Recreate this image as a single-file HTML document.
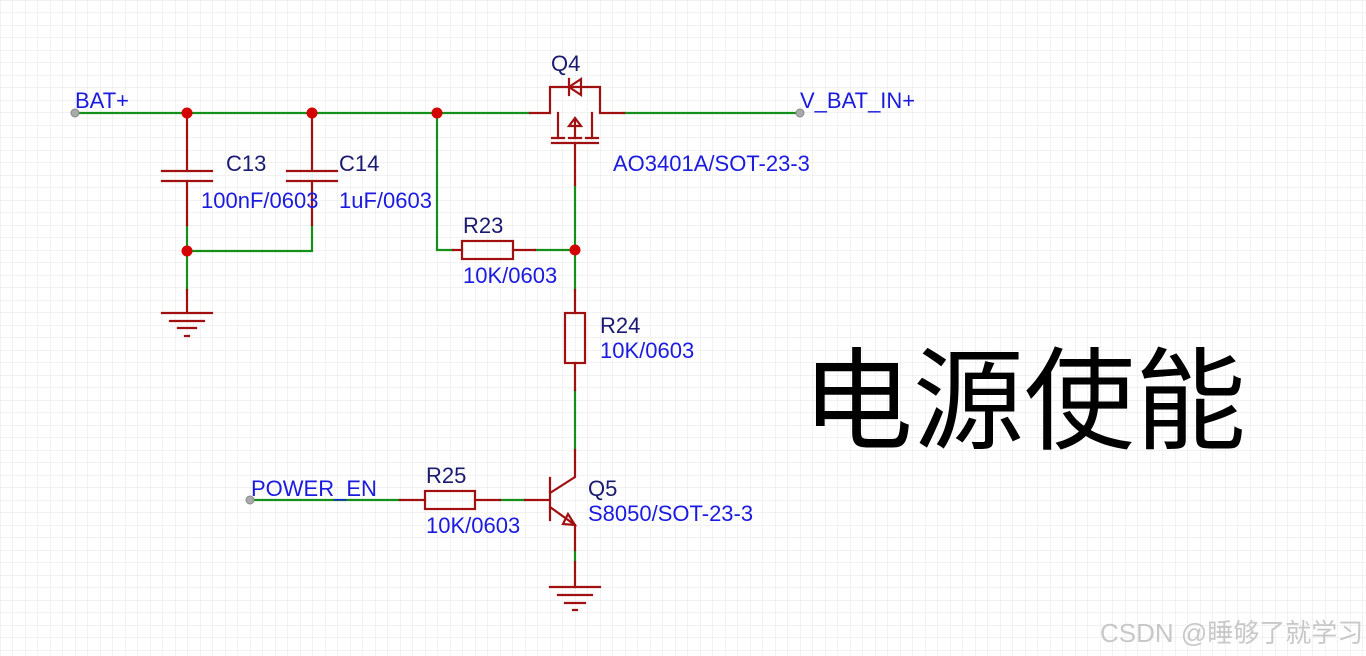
<!DOCTYPE html>
<html><head><meta charset="utf-8"><style>
html,body{margin:0;padding:0;background:#fff;}
svg{display:block;}
text{font-family:"Liberation Sans","Noto Sans CJK SC",sans-serif;}
</style></head><body>
<svg width="1366" height="656" viewBox="0 0 1366 656" xmlns="http://www.w3.org/2000/svg">
<defs>
<pattern id="g" width="12.5" height="12.5" patternUnits="userSpaceOnUse" x="0.5" y="0.5">
<path d="M12.5 0V12.5H0" fill="none" stroke="#e6e6e6" stroke-width="1"/>
</pattern>
</defs>
<rect width="1366" height="656" fill="url(#g)"/>
<g fill="none" stroke-width="2.2" stroke-linecap="square">
<g stroke="#14901a">
<path d="M75 113H530"/><path d="M624 113H800"/>
<path d="M187 113V118M312 113V118"/>
<path d="M187 225V290M312 225V251H187"/>
<path d="M437 113V250H453"/><path d="M535 250H575V290M575 185V250"/>
<path d="M575 390V450"/>
<path d="M250 500H400M500 500H525"/>
<path d="M575 550V562"/>
</g>
<g stroke="#a01010">
<path d="M530 113H550V87H600V113H624"/>
<path d="M187 118V171M187 181V225M162 171H212M162 181H212"/>
<path d="M312 118V171M312 181V225M287 171H337M287 181H337"/>
<path d="M187 290V313M162 313H212M170 321H204M178 328H196M185 336H189"/>
<path d="M558 113V138M592 113V138M575 138V120"/>
<path d="M552 138H564M569 138H581M586 138H598M552 143H598"/>
<path d="M575 143V185"/>
<path d="M569 79V95M581 79V95L569 87Z"/>
<path d="M569 126L575 118L581 126Z"/>
<path d="M453 250H462M513 250H535"/><rect x="462" y="241" width="51" height="18"/>
<path d="M575 290V313M575 363V390"/><rect x="565" y="313" width="20" height="50"/>
<path d="M400 500H425M475 500H500"/><rect x="425" y="491" width="50" height="18"/>
<path d="M575 450V477L550 493M550 478V520M525 500H550M550 507L575 525V550M575 562V587"/>
<path d="M563 524L575 525L568 514Z"/>
<path d="M550 587H600M558 595H592M565 603H585M573 610H577"/>
</g>
</g>
<g fill="#d40000">
<circle cx="187" cy="113" r="5.5"/><circle cx="312" cy="113" r="5.5"/><circle cx="437" cy="113" r="5.5"/>
<circle cx="187" cy="251" r="5.5"/><circle cx="575" cy="250" r="5.5"/>
</g>
<g fill="#aaa" stroke="#888" stroke-width="1">
<circle cx="75" cy="113" r="4"/><circle cx="800" cy="113" r="4"/><circle cx="250" cy="500" r="4"/>
</g>
<g font-size="22" fill="#1a1ae0">
<text x="75" y="108">BAT+</text>
<text x="800" y="108">V_BAT_IN+</text>
<text x="613" y="171">AO3401A/SOT-23-3</text>
<text x="201" y="208">100nF/0603</text>
<text x="339" y="208">1uF/0603</text>
<text x="463" y="283">10K/0603</text>
<text x="600" y="358">10K/0603</text>
<text x="426" y="533">10K/0603</text>
<text x="588" y="521">S8050/SOT-23-3</text>
<text x="251" y="496">POWER_EN</text>
</g>
<g font-size="22" fill="#1a1a70">
<text x="551" y="71">Q4</text>
<text x="226" y="171">C13</text>
<text x="339" y="171">C14</text>
<text x="463" y="233">R23</text>
<text x="600" y="333">R24</text>
<text x="426" y="483">R25</text>
<text x="588" y="496">Q5</text>
</g>
<text x="802" y="440" font-size="111" fill="#000" font-family="'Noto Sans CJK SC',sans-serif">电源使能</text>
<text x="1100" y="642" font-size="26" fill="#c8c8c8" font-family="'Liberation Sans','Noto Sans CJK SC',sans-serif">CSDN @睡够了就学习</text>
</svg>
</body></html>
